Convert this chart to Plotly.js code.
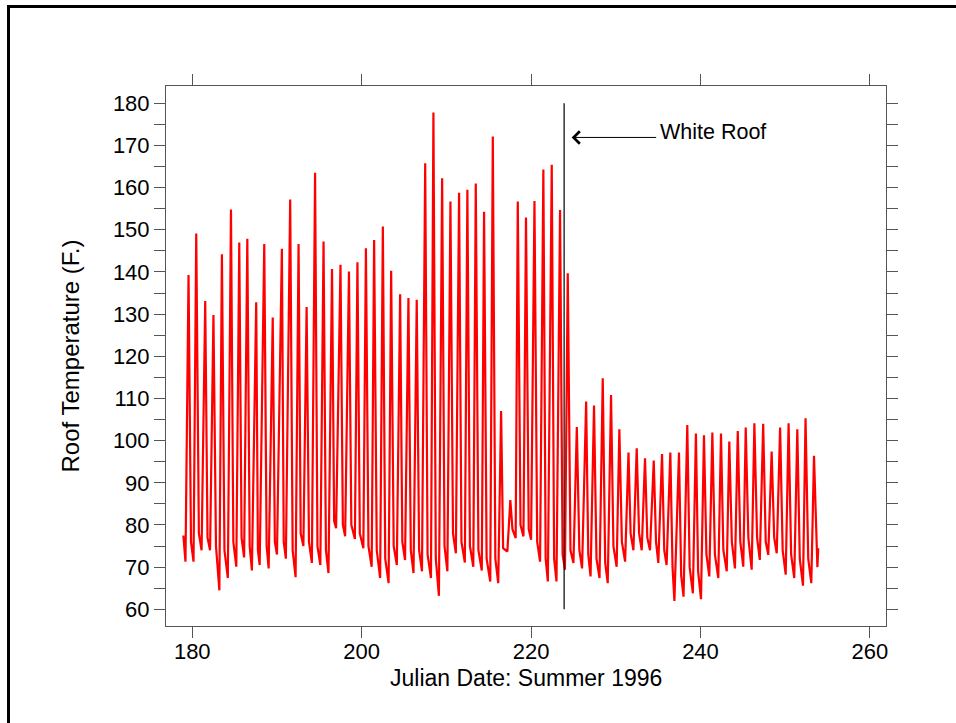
<!DOCTYPE html>
<html>
<head>
<meta charset="utf-8">
<script src="https://cdn.plot.ly/plotly-3.0.1.min.js"></script>
<style>
  html, body { margin: 0; padding: 0; background: #fff; overflow: hidden; }
  #chart { width: 956px; height: 723px; }
  #frame { position: absolute; left: 7px; top: 5px; width: 1000px; height: 800px;
           border-top: 3px solid #000; border-left: 3px solid #000; pointer-events: none; }
</style>
</head>
<body>
<div id="chart"></div>
<div id="frame"></div>
<script>
// Julian day (fractional) of each reading
const julianDay = [
  178.95,179.20,179.56,179.85,180.15,180.47,180.78,181.10,181.53,181.80,
  182.10,182.50,182.80,183.20,183.50,183.80,184.20,184.57,184.85,185.20,
  185.55,185.82,186.12,186.50,186.78,187.04,187.55,187.75,187.96,188.50,
  188.78,189.02,189.50,189.75,190.00,190.58,190.80,191.05,191.56,191.85,
  192.20,192.55,192.80,193.12,193.50,193.78,194.12,194.50,194.78,195.12,
  195.50,195.78,196.08,196.50,196.75,196.98,197.50,197.78,198.05,198.50,
  198.78,199.20,199.50,199.78,200.20,200.50,200.80,201.18,201.47,201.78,
  202.18,202.50,202.78,203.18,203.48,203.78,204.15,204.54,204.80,205.12,
  205.52,205.80,206.12,206.50,206.78,207.12,207.50,207.78,208.18,208.47,
  208.75,209.12,209.50,209.78,210.12,210.48,210.78,211.12,211.50,211.78,
  212.18,212.48,212.78,213.18,213.47,213.78,214.18,214.45,214.75,215.18,
  215.48,215.78,216.12,216.46,216.70,217.20,217.55,217.80,218.18,218.43,
  218.75,219.10,219.40,219.72,220.00,220.40,220.72,221.06,221.45,221.72,
  221.98,222.44,222.72,223.00,223.42,223.72,224.00,224.33,224.65,225.00,
  225.40,225.70,226.02,226.50,226.75,227.02,227.43,227.72,228.08,228.46,
  228.75,229.05,229.44,229.72,230.10,230.42,230.72,231.10,231.50,231.75,
  232.08,232.47,232.75,233.06,233.45,233.72,234.04,234.48,234.75,235.02,
  235.46,235.72,236.00,236.44,236.70,236.92,237.46,237.72,238.00,238.44,
  238.72,239.10,239.46,239.72,240.06,240.41,240.70,241.04,241.40,241.70,
  242.10,242.42,242.70,243.10,243.40,243.70,244.07,244.40,244.70,245.05,
  245.34,245.65,246.04,246.36,246.68,247.00,247.40,247.70,248.00,248.40,
  248.70,249.00,249.40,249.70,250.06,250.40,250.70,251.07,251.43,251.72,
  252.10,252.40,252.72,253.08,253.40,253.65,253.80,253.90
];
// Roof temperature (F.) of each reading
const roofTemp = [
  77.5,71.3,139.3,76,71.3,149.1,78,74.0,133.1,77,
  74.0,129.8,75,64.5,144.2,74,67.4,154.8,76,70.1,
  147.0,77,72.3,147.9,75,69.2,132.8,74,70.5,146.6,
  75,69.7,129.2,76,73.0,145.5,76,72.0,157.2,74,
  67.6,146.6,78,75.0,131.7,76,71.0,163.5,75,70.5,
  147.2,74,68.6,140.7,81,79.2,141.7,80,77.3,140.1,
  80,76.7,142.3,78,74.5,145.6,75,70.1,147.6,74,
  67.4,150.8,72,66.2,140.3,75,70.5,134.7,76,71.7,
  133.8,74,68.6,133.4,74,69.0,165.8,73,67.4,177.8,
  72,63.2,162.2,75,69.0,156.7,78,73.3,158.8,76,
  71.1,159.5,75,70.1,161.0,74,69.2,154.3,72,66.6,
  172.1,72,66.2,107.0,74.5,73.7,85.9,79,76.9,156.7,
  80,77.3,152.9,79,76.5,156.8,76,71.3,164.3,72,
  66.6,165.4,72,66.6,154.7,73,69.4,139.7,74,71.0,
  103.2,74,69.7,109.3,73,67.8,108.3,72,67.4,114.8,
  71,66.2,110.8,75,70.1,102.7,76,71.3,97.2,78,
  74.0,98.2,78,74.0,95.8,77,74.0,95.3,76,71.0,
  96.8,74,70.5,97.2,70,62.0,97.2,68,63.0,103.7,
  70,63.8,101.7,69,62.4,101.3,73,67.8,101.9,73,
  67.4,101.7,74,69.0,99.8,76,69.7,102.3,76,70.1,
  103.1,77,69.4,104.1,77,71.7,104.0,76,72.9,97.4,
  77,73.3,103.1,74,68.2,104.1,73,67.4,102.7,72,
  65.6,105.3,72,66.2,96.4,76,70,74.5
];
// Day the white roof was installed, with the span of the marker line
const whiteRoofDay = [223.9];
const markerSpan = [60, 180];
const arrowTip = [224.79, 171.9];
const labelText = ['White Roof'];
const xTitle = 'Julian Date: Summer 1996';
const yTitle = 'Roof Temperature (F.)';
const xTicks = [180, 200, 220, 240, 260];

const font = 'Liberation Sans, Arial, sans-serif';

const trace = {
  x: julianDay, y: roofTemp, type: 'scatter', mode: 'lines',
  line: { color: '#ff0000', width: 2.2 }, hoverinfo: 'x+y'
};

const layout = {
  width: 956, height: 723,
  margin: { l: 166, r: 70, t: 86, b: 97 },
  paper_bgcolor: '#fff', plot_bgcolor: '#fff',
  showlegend: false,
  font: { family: font, color: '#000', size: 22 },
  xaxis: {
    range: [176.9, 261.9], tickvals: xTicks, ticks: 'outside', ticklen: 11,
    tickcolor: '#555', tickwidth: 1, showline: true, linecolor: '#555', linewidth: 1,
    mirror: 'ticks', showgrid: false, zeroline: false, ticklabelstandoff: -5,
    tickfont: { family: font, size: 22, color: '#000' }
  },
  yaxis: {
    range: [56.04, 184.1], dtick: 10, tick0: 0, ticks: 'outside', ticklen: 11,
    tickcolor: '#555', tickwidth: 1, showline: true, linecolor: '#555', linewidth: 1,
    mirror: 'ticks', showgrid: false, zeroline: false,
    minor: { dtick: 5, ticks: 'outside', ticklen: 11, tickcolor: '#555', tickwidth: 1, showgrid: false },
    tickfont: { family: font, size: 22, color: '#000' },
    title: { text: yTitle, font: { family: font, size: 24, color: '#000' }, standoff: 26 }
  },
  shapes: [{
    type: 'line', xref: 'x', yref: 'y',
    x0: whiteRoofDay[0], x1: whiteRoofDay[0], y0: markerSpan[0], y1: markerSpan[1],
    line: { color: '#000', width: 1.2 }
  }],
  annotations: [
    {
      xref: 'x', yref: 'y', x: arrowTip[0], y: arrowTip[1], text: '',
      showarrow: true, arrowhead: 4, arrowsize: 2.4, arrowwidth: 1, arrowcolor: '#000',
      ax: 86, ay: 0, axref: 'pixel', ayref: 'pixel'
    },
    {
      xref: 'x', yref: 'y', x: arrowTip[0], y: arrowTip[1], text: labelText[0],
      showarrow: false, xanchor: 'left', yanchor: 'middle', xshift: 86, yshift: 5,
      font: { family: font, size: 21.5, color: '#000' }
    },
    {
      xref: 'paper', yref: 'paper', x: 0.5, y: -0.096, text: xTitle,
      showarrow: false, xanchor: 'center', yanchor: 'middle',
      font: { family: font, size: 23, color: '#000' }
    }
  ]
};

Plotly.newPlot('chart', [trace], layout, { displayModeBar: false, staticPlot: true });
</script>
</body>
</html>
